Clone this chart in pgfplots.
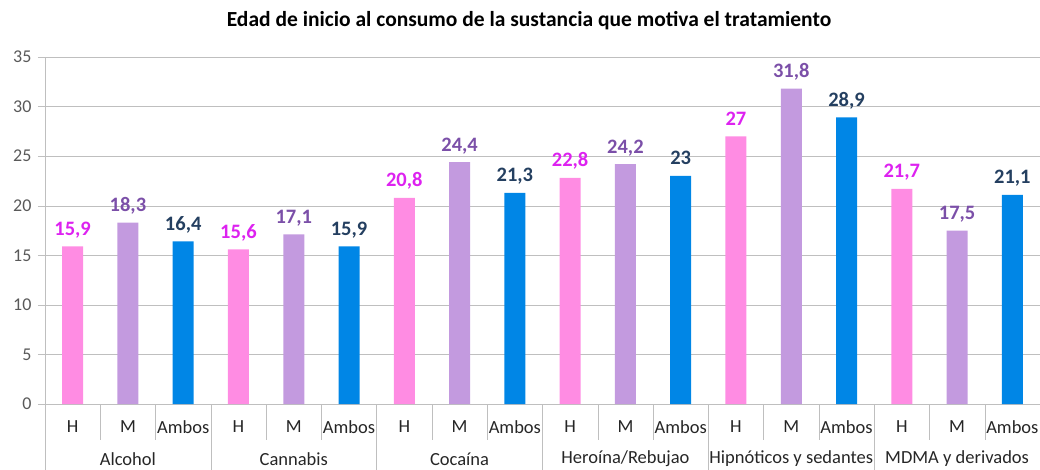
\documentclass[border=0pt]{standalone}
\usepackage{pgfplots}
\pgfplotsset{compat=1.18}
\usepackage{pgfplotstable}
\usepackage{fontspec}
\setmainfont{Carlito}
\definecolor{cH}{HTML}{FF8CE3}
\definecolor{cM}{HTML}{C39ADF}
\definecolor{cA}{HTML}{0086E6}
\definecolor{lH}{HTML}{DD22F0}
\definecolor{lM}{HTML}{7B4FA8}
\definecolor{lA}{HTML}{243F60}
\definecolor{gridc}{HTML}{BFBFBF}
\definecolor{tickc}{HTML}{595959}
\definecolor{catc}{HTML}{262626}

\pgfplotstableread{
x y lab
0 15.9 15,9
3 15.6 15,6
6 20.8 20,8
9 22.8 22,8
12 27 27
15 21.7 21,7
}\dataH
\pgfplotstableread{
x y lab
1 18.3 18,3
4 17.1 17,1
7 24.4 24,4
10 24.2 24,2
13 31.8 31,8
16 17.5 17,5
}\dataM
\pgfplotstableread{
x y lab
2 16.4 16,4
5 15.9 15,9
8 21.3 21,3
11 23 23
14 28.9 28,9
17 21.1 21,1
}\dataA

\begin{document}
\begin{tikzpicture}[x=1pt,y=1pt]
\path[use as bounding box] (0,0) rectangle (1040,469);
\node[font=\fontsize{21.5}{24}\selectfont\bfseries] at (529,448) {Edad de inicio al consumo de la sustancia que motiva el tratamiento};
\begin{axis}[
  at={(45pt,65pt)}, anchor=south west,
  scale only axis, width=995pt, height=347pt,
  xmin=-0.5, xmax=17.5, ymin=0, ymax=35,
  ytick={0,5,...,35},
  axis x line*=bottom, axis y line*=left,
  axis line style={-, draw=gridc},
  ymajorgrids, grid style={draw=gridc},
  tick align=outside, major tick length=7pt,
  ytick style={draw=gridc},
  xtick={0,...,17},
  xticklabels={H,M,Ambos,H,M,Ambos,H,M,Ambos,H,M,Ambos,H,M,Ambos,H,M,Ambos},
  xtick style={draw=none},
  xticklabel style={font=\fontsize{18.5}{20}\selectfont, text=catc, anchor=center, yshift=-16pt},
  yticklabel style={font=\fontsize{18}{20}\selectfont, text=tickc, xshift=-3pt},
  /pgf/number format/assume math mode=true,
  clip=false,
  ybar, bar width=21pt,
  point meta=explicit symbolic,
  nodes near coords,
  every node near coord/.append style={font=\fontsize{20.5}{22}\selectfont\bfseries, anchor=base, inner sep=0pt, yshift=11pt},
]
\addplot[draw=none, fill=cH, bar shift=0pt, nodes near coords style={text=lH}] table[x=x, y=y, meta=lab] {\dataH};
\addplot[draw=none, fill=cM, bar shift=0pt, nodes near coords style={text=lM}] table[x=x, y=y, meta=lab] {\dataM};
\addplot[draw=none, fill=cA, bar shift=0pt, nodes near coords style={text=lA}] table[x=x, y=y, meta=lab] {\dataA};
\pgfplotsinvokeforeach{0.5,1.5,3.5,4.5,6.5,7.5,9.5,10.5,12.5,13.5,15.5,16.5}{
  \draw[gridc] (axis cs:#1,0) -- ([yshift=-36pt]axis cs:#1,0);
}
\pgfplotsinvokeforeach{-0.5,2.5,5.5,8.5,11.5,14.5}{
  \draw[gridc] (axis cs:#1,0) -- ([yshift=-66pt]axis cs:#1,0);
}
\node[font=\fontsize{18.5}{20}\selectfont, text=catc, anchor=center] at ([yshift=-55pt]axis cs:1,0) {Alcohol};
\node[font=\fontsize{18.5}{20}\selectfont, text=catc, anchor=center] at ([yshift=-55pt]axis cs:4,0) {Cannabis};
\node[font=\fontsize{18.5}{20}\selectfont, text=catc, anchor=center] at ([yshift=-55pt]axis cs:7,0) {Cocaína};
\node[font=\fontsize{18.5}{20}\selectfont, text=catc, anchor=center] at ([yshift=-55pt]axis cs:10,0) {Heroína/Rebujao};
\node[font=\fontsize{18.5}{20}\selectfont, text=catc, anchor=center] at ([yshift=-55pt]axis cs:13,0) {Hipnóticos y sedantes};
\node[font=\fontsize{18.5}{20}\selectfont, text=catc, anchor=center] at ([yshift=-55pt]axis cs:16,0) {MDMA y derivados};
\end{axis}
\end{tikzpicture}
\end{document}
